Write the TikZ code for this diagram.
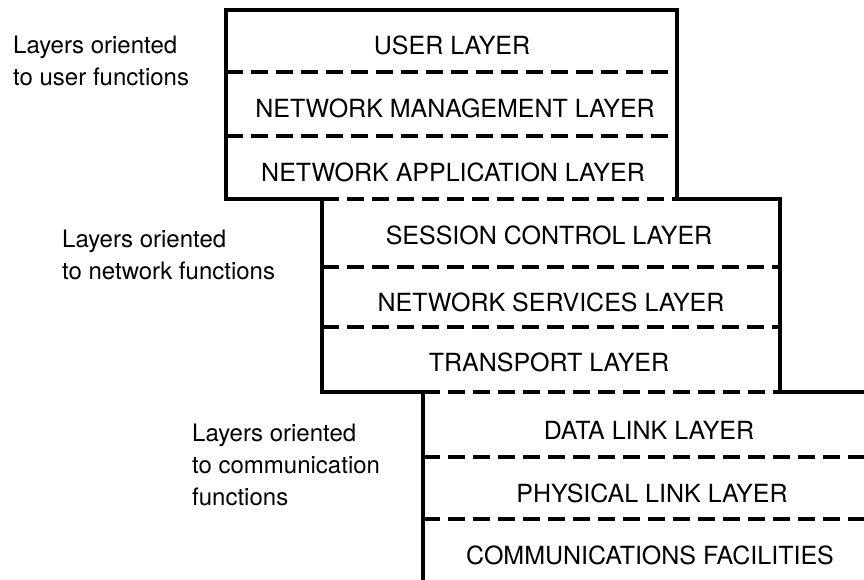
\documentclass[tikz,border=0pt]{standalone}
\usepackage{fontspec}
\setmainfont{TeX Gyre Heros}
\tikzset{
  layerline/.style={line width=3.2pt, line join=miter},
  layersep/.style={line width=3.2pt, dash pattern=on 17pt off 8pt},
  layertext/.style={font=\fontsize{25}{28}\selectfont, inner sep=0pt},
  grouptext/.style={font=\fontsize{24}{32}\selectfont, align=left, anchor=north west, inner sep=0pt},
}
\begin{document}
\begin{tikzpicture}[x=1pt,y=-1pt]
  \useasboundingbox (0,0) rectangle (864,579);
  \begin{scope}
  \clip (0,0) rectangle (864,579);

  % Drawing outline of upper stack and right steps
  \draw [layerline] (322,199) -- (226,199) -- (226,10) -- (677,10) -- (677,199)
        -- (780,199) -- (780,392) -- (880,392);%

  % Drawing left steps
  \draw [layerline] (322,199) -- (322,392) -- (423,392) -- (423,600);%

  % Drawing separators of upper stack
  \draw [layersep] (226,72) -- (677,72);%
  \draw [layersep] (226,136) -- (677,136);%
  \draw [layersep] (322,199) -- (677,199);%

  % Drawing separators of middle stack
  \draw [layersep] (322,267) -- (780,267);%
  \draw [layersep] (322,327) -- (780,327);%
  \draw [layersep] (423,392) -- (780,392);%

  % Drawing separators of lower stack
  \draw [layersep] (423,457) -- (880,457);%
  \draw [layersep] (423,519) -- (880,519);%
  \end{scope}

  % Layer names
  \node [layertext] (user) at (452,45) {USER LAYER};%
  \node [layertext] (netmgmt) at (455,108) {NETWORK MANAGEMENT LAYER};%
  \node [layertext] (netappl) at (453,172) {NETWORK APPLICATION LAYER};%
  \node [layertext] (session) at (549,235) {SESSION CONTROL LAYER};%
  \node [layertext] (netserv) at (551,302) {NETWORK SERVICES LAYER};%
  \node [layertext] (transport) at (549,362) {TRANSPORT LAYER};%
  \node [layertext] (datalink) at (649,430) {DATA LINK LAYER};%
  \node [layertext] (physlink) at (652,493) {PHYSICAL LINK LAYER};%
  \node [layertext] (commfac) at (650,555) {COMMUNICATIONS FACILITIES};%

  % Group labels
  \node [grouptext] (userlbl) at (13,36) {Layers oriented\\to user functions};%
  \node [grouptext] (netlbl) at (62,230) {Layers oriented\\to network functions};%
  \node [grouptext] (commlbl) at (192,424) {Layers oriented\\to communication\\functions};%
\end{tikzpicture}
\end{document}
